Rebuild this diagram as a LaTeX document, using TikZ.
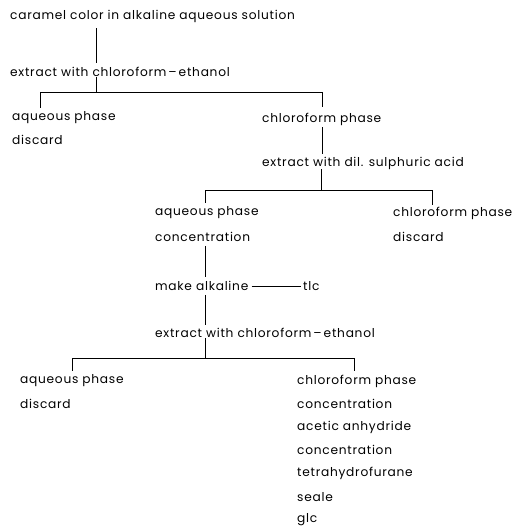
\documentclass[tikz,border=0pt]{standalone}
\usepackage{fontspec}
\setmainfont{Poppins}[LetterSpace=6]
\begin{document}
\begin{tikzpicture}[x=1pt,y=-1pt,
  lbl/.style={anchor=west,inner sep=0pt,font=\fontsize{12.2}{14}\selectfont},
  ln/.style={line width=0.85pt}]
\useasboundingbox (0,0) rectangle (532,526);
\node[lbl] (n1) at (10,16) {caramel color in alkaline aqueous solution};
\node[lbl] (n2) at (10,72) {extract with chloroform\,--\,ethanol};
\node[lbl] (n3) at (12,118) {aqueous phase};
\node[lbl] (n4) at (12,140) {discard};
\node[lbl] (n5) at (262,119) {chloroform phase};
\node[lbl] (n6) at (262,163) {extract with dil. sulphuric acid};
\node[lbl] (n7) at (155,213) {aqueous phase};
\node[lbl] (n8) at (155,237) {concentration};
\node[lbl] (n9) at (393,213) {chloroform phase};
\node[lbl] (n10) at (393,237) {discard};
\node[lbl] (n11) at (155,286) {make alkaline};
\node[lbl] (n12) at (303,286) {tlc};
\node[lbl] (n13) at (155,333) {extract with chloroform\,--\,ethanol};
\node[lbl] (n14) at (20,381) {aqueous phase};
\node[lbl] (n15) at (20,404) {discard};
\node[lbl] (n16) at (297,381) {chloroform phase};
\node[lbl] (n17) at (297,404) {concentration};
\node[lbl] (n18) at (297,427) {acetic anhydride};
\node[lbl] (n19) at (297,450) {concentration};
\node[lbl] (n20) at (297,473) {tetrahydrofurane};
\node[lbl] (n21) at (297,497) {seale};
\node[lbl] (n22) at (297,520) {glc};
% split 1
\coordinate (s1) at (96,92);
\coordinate (s1l) at (40,92);
\coordinate (s1r) at (322,92);
\draw[ln] (n1.south -| s1) ++(0,6) -- ([yshift=4pt]n2.north -| s1);
\draw[ln] (n2.south -| s1) -- (s1);
\draw[ln] (n3.north -| s1l) ++(0,-4) |- (s1r) -- ++(0,15);
\draw[ln] (n5.south -| s1r) ++(0,2) -- ([yshift=3pt]n6.north -| s1r);
% split 2
\coordinate (s2) at (321,190);
\coordinate (s2l) at (205,190);
\coordinate (s2r) at (432,190);
\draw[ln] (n6.south -| s2) -- (s2);
\draw[ln] (n7.north -| s2l) ++(0,-4) |- (s2r) -- ++(0,15);
\draw[ln] (n8.south -| s2l) ++(0,4) -- ([yshift=4pt]n11.north -| s2l);
\draw[ln] (n11.east) ++(3,0) -- ([xshift=-2pt]n12.west);
\draw[ln] (n11.south -| s2l) ++(0,4) -- ([yshift=3pt]n13.north -| s2l);
% split 3
\coordinate (s3) at (205,358);
\coordinate (s3l) at (72,358);
\coordinate (s3r) at (354,358);
\draw[ln] (n13.south -| s3) -- (s3);
\draw[ln] (n14.north -| s3l) ++(0,-4) |- (s3r) -- ++(0,13);
\end{tikzpicture}
\end{document}
